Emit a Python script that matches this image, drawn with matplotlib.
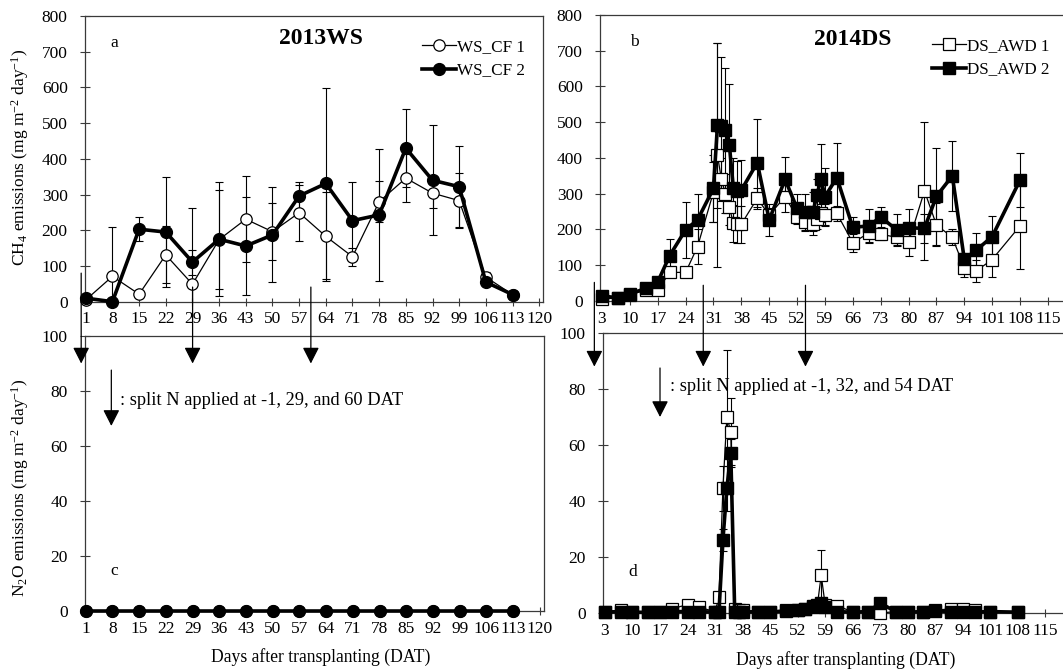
import matplotlib
matplotlib.use('Agg')
import matplotlib.pyplot as plt
from matplotlib.patches import FancyArrowPatch

plt.rcParams['font.family'] = ['Liberation Serif', 'DejaVu Serif']
plt.rcParams['mathtext.fontset'] = 'custom'
plt.rcParams['mathtext.rm'] = 'Liberation Serif'
plt.rcParams['mathtext.it'] = 'Liberation Serif:italic'

# ---------------- data ----------------
ws_days = [1, 8, 15, 22, 29, 36, 43, 50, 57, 64, 71, 78, 85, 92, 99, 106, 113]
ws_cf1_ch4 = [5, 71, 21, 131, 49, 174, 231, 196, 249, 183, 126, 280, 346, 304, 283, 69, 20]
ws_cf1_ch4_err = [4, 138, 10, 80, 213, 138, 120, 80, 78, 125, 25, 58, 68, 42, 77, 15, 4]
ws_cf2_ch4 = [10, 0, 203, 195, 111, 175, 156, 187, 296, 331, 227, 243, 430, 340, 322, 55, 20]
ws_cf2_ch4_err = [4, 0, 33, 154, 35, 160, 137, 133, 38, 268, 107, 184, 110, 154, 114, 8, 4]
ws_cf1_n2o = [0] * 17
ws_cf2_n2o = [0] * 17

ds_days = [3, 7, 10, 14, 17, 20, 24, 27, 31, 32, 33, 34, 35, 36, 37, 38, 42, 45, 49,
           52, 54, 56, 57, 58, 59, 62, 66, 70, 73, 77, 80, 84, 87, 91, 94, 97, 101, 108]
ds_awd1_ch4 = [5, 9, 17, 31, 30, 80, 80, 152, 305, 408, 340, 300, 262, 217, 215, 215, 287, 240, 292,
               234, 222, 215, 230, 245, 240, 245, 163, 190, 187, 178, 164, 308, 213, 178, 93, 84, 116, 210]
ds_awd1_ch4_err = [3, 3, 4, 5, 8, 10, 8, 48, 85, 313, 60, 55, 50, 52, 52, 52, 30, 20, 42,
                   20, 25, 30, 30, 25, 30, 20, 25, 25, 15, 25, 38, 192, 60, 22, 25, 30, 50, 120]
ds_awd2_ch4 = [14, 9, 20, 35, 53, 127, 199, 227, 315, 491, 490, 478, 436, 315, 308, 310, 387, 227, 340,
               259, 248, 250, 296, 342, 292, 345, 206, 210, 235, 199, 205, 203, 293, 350, 117, 142, 180, 338]
ds_awd2_ch4_err = [3, 3, 4, 5, 8, 47, 78, 73, 93, 232, 192, 175, 172, 85, 85, 85, 123, 45, 62,
                   40, 50, 55, 45, 97, 80, 96, 30, 48, 28, 43, 52, 40, 135, 97, 15, 49, 57, 75]
ds_awd1_n2o = [0.5, 1, 0.5, 0.5, 0.5, 1.5, 3, 2, 0.5, 5.6, 44.5, 70, 64.8, 1.5, 1, 1, 0.5, 0.5, 1,
               1, 1.5, 2, 2.5, 13.5, 3, 2.5, 0.5, 0.5, 0, 0.5, 0.5, 0.5, 1, 1.5, 1.5, 1, 0.5, 0.3]
ds_awd1_n2o_err = [0.3, 0.5, 0.3, 0.3, 0.3, 0.5, 1.5, 0.8, 0.3, 1.5, 8, 24, 12, 0.5, 0.5, 0.5, 0.3, 0.3, 0.5,
                   0.5, 0.5, 0.8, 1, 9, 1, 0.8, 0.3, 0.3, 0.3, 0.3, 0.3, 0.3, 0.5, 0.5, 0.5, 0.5, 0.3, 0.2]
ds_awd2_n2o = [0.3, 0.5, 0.3, 0.2, 0.3, 0.5, 0.5, 0.5, 0.3, 0.5, 26, 44.5, 57, 0.5, 0.3, 0.3, 0.5, 0.3, 0.8,
               1, 1.5, 2.5, 3, 3.5, 2, 0.5, 0.3, 0.5, 3.5, 0.5, 0.3, 0.5, 0.8, 0.5, 0.5, 0.3, 0.5, 0.3]
ds_awd2_n2o_err = [0.2, 0.3, 0.2, 0.2, 0.2, 0.3, 0.3, 0.3, 0.2, 0.3, 4, 8, 5, 0.3, 0.2, 0.2, 0.3, 0.2, 0.3,
                   0.4, 0.5, 0.8, 1, 1.5, 0.8, 0.3, 0.2, 0.3, 1.5, 0.3, 0.2, 0.3, 0.3, 0.3, 0.3, 0.2, 0.3, 0.2]

ws_xticks = list(range(1, 121, 7))
ds_xticks = list(range(3, 116, 7))
ws_arrow_days = [-0.2, 29, 60]
ds_arrow_days = [0.3, 28, 54]

# ---------------- figure ----------------
W, H = 1063, 671
fig = plt.figure(figsize=(W / 100, H / 100), dpi=100)


def px_axes(left, top, right, bottom):
    return fig.add_axes([left / W, 1 - bottom / H, (right - left) / W, (bottom - top) / H])


ax_a = px_axes(85, 16, 543, 301.7)
ax_b = px_axes(600, 15, 1063, 301)
ax_c = px_axes(85, 336, 543.6, 611)
ax_d = px_axes(603, 333, 1063, 613)

FS = 12.5
spine_col = '#3a3a3a'
for ax in (ax_a, ax_b, ax_c, ax_d):
    for s in ax.spines.values():
        s.set_color(spine_col)
        s.set_linewidth(0.9)
    ax.tick_params(axis='y', direction='inout', length=7, width=0.8, color=spine_col,
                   labelsize=FS, pad=9)
    ax.tick_params(axis='x', direction='inout', length=6, width=0.8, color=spine_col,
                   labelsize=FS, pad=4)
for ax in (ax_b, ax_d):
    ax.spines['right'].set_visible(False)

ax_a.set_xlim(0.8, 121)
ax_c.set_xlim(0.8, 121)
ax_b.set_xlim(2.5, 118.8)
ax_d.set_xlim(2.5, 119.5)
ax_a.set_ylim(0, 800)
ax_b.set_ylim(0, 800)
ax_c.set_ylim(0, 100)
ax_d.set_ylim(0, 100)
for ax in (ax_a, ax_b):
    ax.set_yticks(range(0, 801, 100))
for ax in (ax_c, ax_d):
    ax.set_yticks(range(0, 101, 20))
for ax in (ax_a, ax_c):
    ax.set_xticks(ws_xticks)
for ax in (ax_b, ax_d):
    ax.set_xticks(ds_xticks)

eb_kw = dict(fmt='none', ecolor='black', elinewidth=0.8, capsize=2.6, capthick=0.8, zorder=2)
thin = dict(color='black', lw=0.9, markerfacecolor='white', markeredgecolor='black',
            markeredgewidth=0.9, zorder=3, clip_on=False)
thick = dict(color='black', lw=2.6, markerfacecolor='black', markeredgecolor='black', zorder=4,
             clip_on=False)

# panel a
ax_a.errorbar(ws_days, ws_cf1_ch4, yerr=ws_cf1_ch4_err, **eb_kw)
ax_a.errorbar(ws_days, ws_cf2_ch4, yerr=ws_cf2_ch4_err, **eb_kw)
ax_a.plot(ws_days, ws_cf1_ch4, marker='o', ms=8.2, label='WS_CF 1', **thin)
ax_a.plot(ws_days, ws_cf2_ch4, marker='o', ms=8.5, label='WS_CF 2', **thick)

# panel b
ax_b.errorbar(ds_days, ds_awd1_ch4, yerr=ds_awd1_ch4_err, **eb_kw)
ax_b.errorbar(ds_days, ds_awd2_ch4, yerr=ds_awd2_ch4_err, **eb_kw)
ax_b.plot(ds_days, ds_awd1_ch4, marker='s', ms=8, label='DS_AWD 1', **thin)
ax_b.plot(ds_days, ds_awd2_ch4, marker='s', ms=8.5, label='DS_AWD 2', **thick)

# panel c
ax_c.plot(ws_days, ws_cf1_n2o, marker='o', ms=8.2, **thin)
ax_c.plot(ws_days, ws_cf2_n2o, marker='o', ms=8.5, **thick)

# panel d
ax_d.errorbar(ds_days, ds_awd1_n2o, yerr=ds_awd1_n2o_err, **eb_kw)
ax_d.errorbar(ds_days, ds_awd2_n2o, yerr=ds_awd2_n2o_err, **eb_kw)
ax_d.plot(ds_days, ds_awd1_n2o, marker='s', ms=8, **thin)
ax_d.plot(ds_days, ds_awd2_n2o, marker='s', ms=8.5, **thick)

# legends
for ax, anchor in ((ax_a, (0.735, 0.92)), (ax_b, (0.716, 0.92))):
    ax.legend(loc='upper left', bbox_to_anchor=anchor, frameon=False, fontsize=12.3,
              handlelength=2.0, handletextpad=0.05, labelspacing=0.45, borderaxespad=0,
              borderpad=0, numpoints=1)

# panel texts
ax_a.text(0.055, 0.905, 'a', transform=ax_a.transAxes, fontsize=12.5, va='center')
ax_a.text(0.515, 0.92, '2013WS', transform=ax_a.transAxes, fontsize=17,
          fontweight='bold', ha='center', va='center')
ax_b.text(0.065, 0.905, 'b', transform=ax_b.transAxes, fontsize=12.5, va='center')
ax_b.text(0.546, 0.915, '2014DS', transform=ax_b.transAxes, fontsize=17,
          fontweight='bold', ha='center', va='center')
ax_c.text(7.5, 14.5, 'c', fontsize=12.5, va='center')
ax_d.text(9, 14.5, 'd', fontsize=12.5, va='center')

ax_c.text(10, 76.5, ': split N applied at -1, 29, and 60 DAT', fontsize=13.2, va='center')
ax_d.text(19.5, 80.8, ': split N applied at -1, 32, and 54 DAT', fontsize=13.2, va='center')

# axis titles
fig.text(20 / W, 1 - 157 / H, 'CH$_4$ emissions (mg m$^{-2}$ day$^{-1}$)', rotation=90,
         ha='center', va='center', fontsize=12.5)
fig.text(20 / W, 1 - 488 / H, 'N$_2$O emissions (mg m$^{-2}$ day$^{-1}$)', rotation=90,
         ha='center', va='center', fontsize=12.5)
fig.text(321 / W, 1 - 657 / H, 'Days after transplanting (DAT)', ha='center', va='center',
         fontsize=12.7)
fig.text(846 / W, 1 - 660 / H, 'Days after transplanting (DAT)', ha='center', va='center',
         fontsize=12.7)


# arrows
def to_fig(ax, x, y):
    return fig.transFigure.inverted().transform(ax.transData.transform((x, y)))


def fig_arrow(p0, p1):
    arr = FancyArrowPatch(p0, p1, transform=fig.transFigure,
                          arrowstyle='-|>,head_length=0.55,head_width=0.28',
                          mutation_scale=18, lw=0.9, color='black', shrinkA=0, shrinkB=0)
    fig.add_artist(arr)


ws_tail_y = [80, 41, 41]
for d, ty in zip(ws_arrow_days, ws_tail_y):
    xa = to_fig(ax_c, d, 0)[0]
    ytop = to_fig(ax_a, 1, ty)[1]
    ybot = to_fig(ax_c, 1, 90)[1]
    fig_arrow((xa, ytop), (xa, ybot))
ds_tail_y = [52, 44, 44]
for d, ty in zip(ds_arrow_days, ds_tail_y):
    xa = to_fig(ax_d, d, 0)[0]
    ytop = to_fig(ax_b, 3, ty)[1]
    ybot = to_fig(ax_d, 3, 88)[1]
    fig_arrow((xa, ytop), (xa, ybot))

# legend arrows
fig_arrow(to_fig(ax_c, 7.7, 87.6), to_fig(ax_c, 7.7, 67.3))
fig_arrow(to_fig(ax_d, 17, 87.5), to_fig(ax_d, 17, 70))

fig.savefig('out.png', dpi=100)
